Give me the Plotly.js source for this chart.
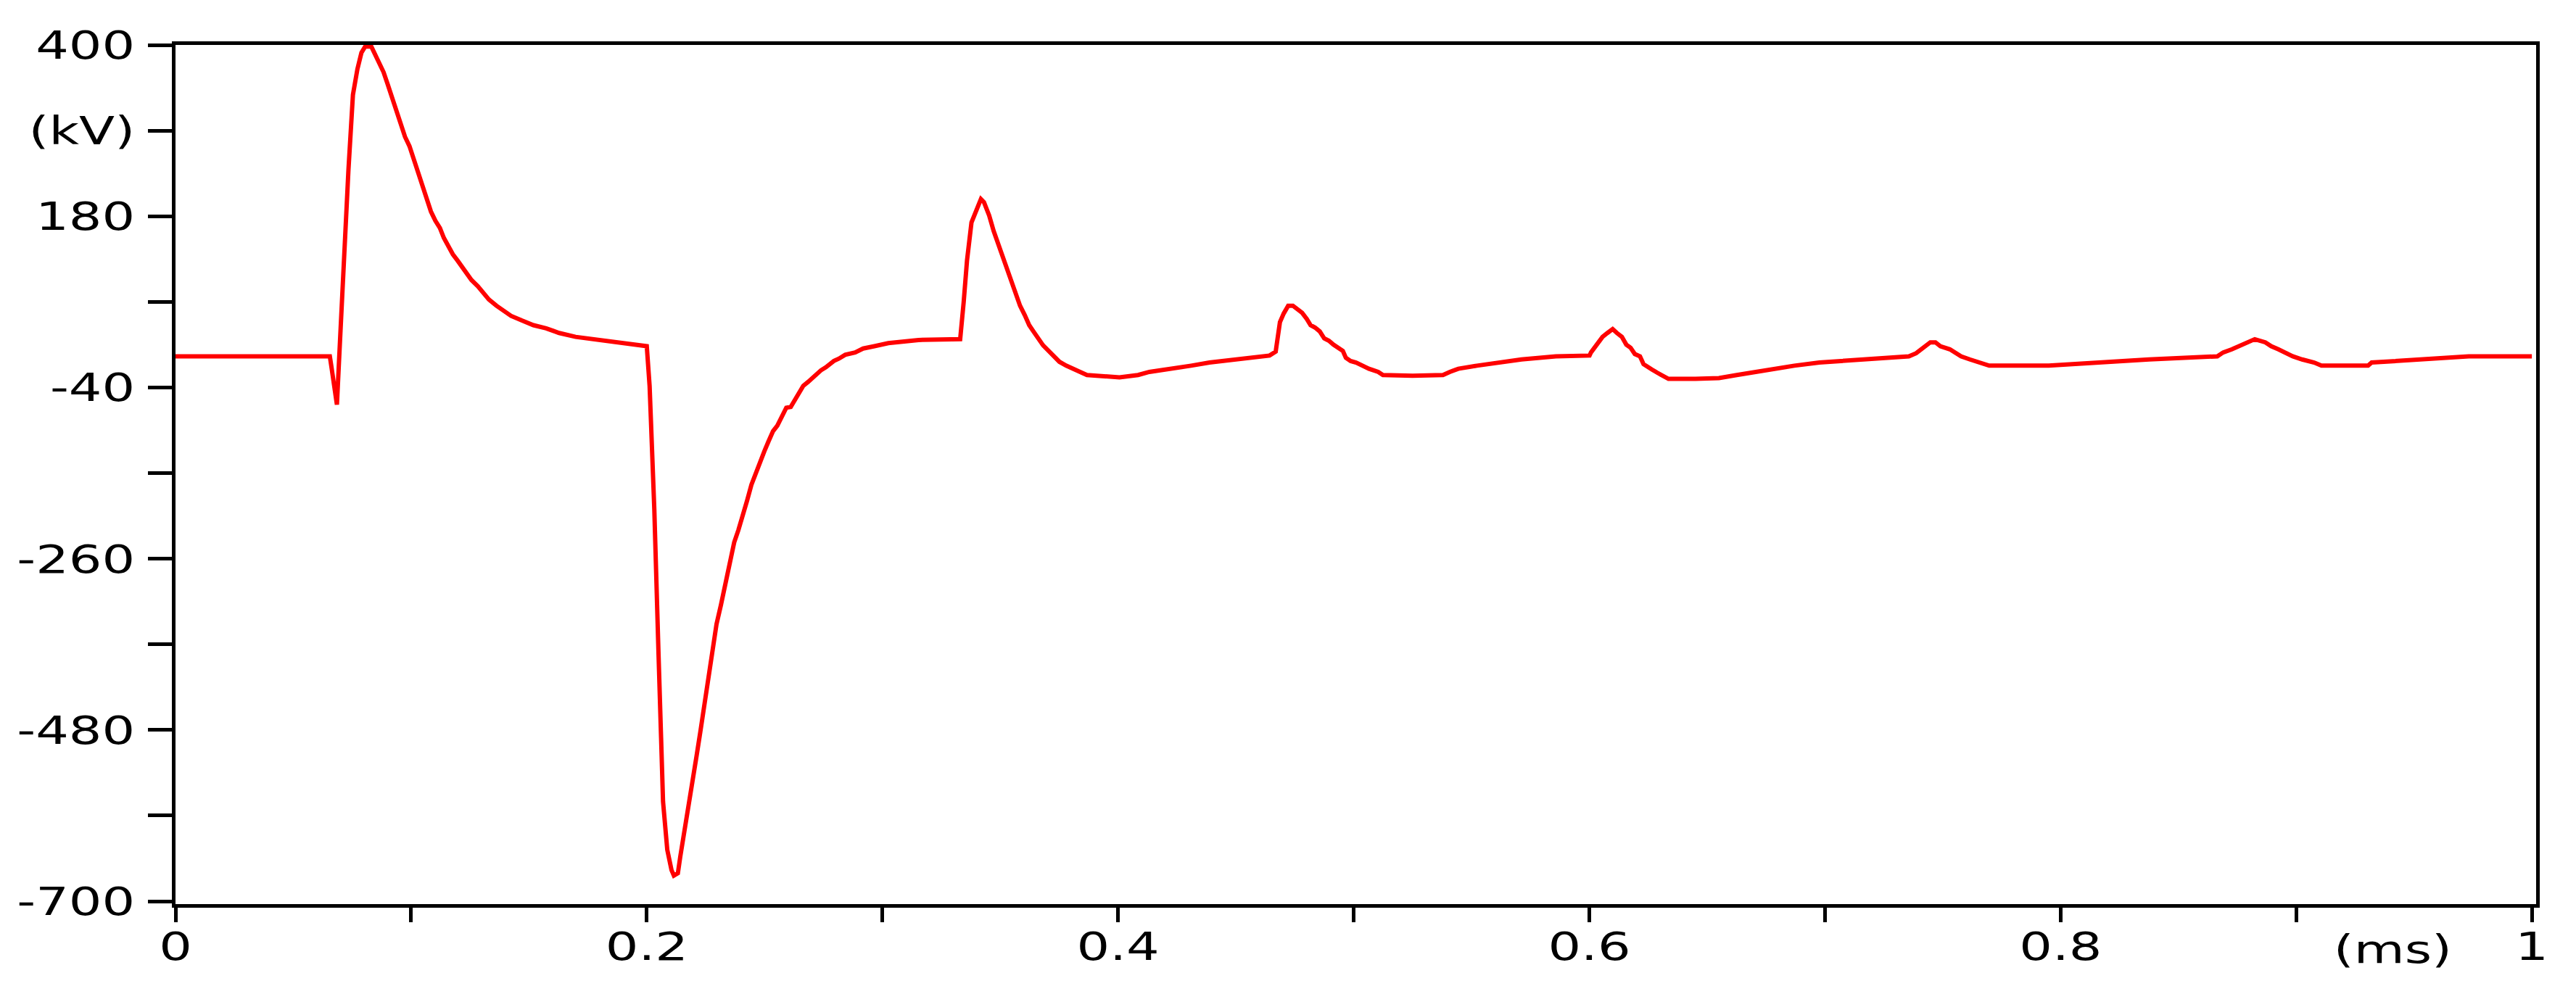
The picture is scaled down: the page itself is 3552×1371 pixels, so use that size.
<!DOCTYPE html>
<html>
<head>
<meta charset="utf-8">
<script src="https://cdn.plot.ly/plotly-3.0.1.min.js"></script>
<style>
  html, body { margin: 0; padding: 0; background: #ffffff; }
  #chart { width: 3552px; height: 1371px; }
</style>
</head>
<body>
<div id="chart"></div>
<script>
// time in ms
const timeMs = [
  0.0000, 0.0655, 0.0662, 0.0685, 0.0698, 0.0715, 0.0734, 0.0753, 0.0772, 0.0789,
  0.0805, 0.0831, 0.0843, 0.0862, 0.0883, 0.0901, 0.0920, 0.0938, 0.0957, 0.0974,
  0.0993, 0.1012, 0.1030, 0.1048, 0.1067, 0.1084, 0.1103, 0.1122, 0.1139, 0.1158,
  0.1177, 0.1197, 0.1215, 0.1236, 0.1256, 0.1283, 0.1307, 0.1330, 0.1362, 0.1393,
  0.1424, 0.1470, 0.1519, 0.1573, 0.1628, 0.1698, 0.1801, 0.1910, 0.1990, 0.2000,
  0.2012, 0.2032, 0.2050, 0.2069, 0.2087, 0.2105, 0.2115, 0.2132, 0.2142, 0.2158,
  0.2176, 0.2194, 0.2211, 0.2228, 0.2245, 0.2261, 0.2279, 0.2296, 0.2315, 0.2334,
  0.2352, 0.2371, 0.2389, 0.2407, 0.2426, 0.2444, 0.2462, 0.2481, 0.2499, 0.2517,
  0.2536, 0.2554, 0.2575, 0.2592, 0.2611, 0.2630, 0.2647, 0.2664, 0.2684, 0.2702,
  0.2722, 0.2739, 0.2760, 0.2776, 0.2794, 0.2815, 0.2842, 0.2884, 0.2918, 0.2966,
  0.3025, 0.3153, 0.3330, 0.3345, 0.3359, 0.3378, 0.3398, 0.3418, 0.3431, 0.3453,
  0.3472, 0.3492, 0.3509, 0.3529, 0.3549, 0.3567, 0.3584, 0.3604, 0.3623, 0.3643,
  0.3662, 0.3682, 0.3702, 0.3731, 0.3751, 0.3780, 0.3810, 0.3839, 0.3868, 0.4006,
  0.4085, 0.4133, 0.4232, 0.4310, 0.4388, 0.4536, 0.4643, 0.4669, 0.4687, 0.4703,
  0.4722, 0.4742, 0.4762, 0.4781, 0.4801, 0.4817, 0.4836, 0.4856, 0.4875, 0.4895,
  0.4914, 0.4934, 0.4954, 0.4967, 0.4987, 0.5010, 0.5036, 0.5065, 0.5104, 0.5124,
  0.5250, 0.5379, 0.5408, 0.5444, 0.5523, 0.5621, 0.5712, 0.5858, 0.6001, 0.6007,
  0.6026, 0.6038, 0.6056, 0.6077, 0.6099, 0.6117, 0.6138, 0.6157, 0.6175, 0.6193,
  0.6215, 0.6230, 0.6248, 0.6266, 0.6288, 0.6312, 0.6336, 0.6450, 0.6550, 0.6626,
  0.6702, 0.6778, 0.6870, 0.6976, 0.7159, 0.7356, 0.7387, 0.7408, 0.7423, 0.7447,
  0.7469, 0.7490, 0.7530, 0.7554, 0.7578, 0.7615, 0.7660, 0.7697, 0.7950, 0.8148,
  0.8376, 0.8665, 0.8690, 0.8727, 0.8757, 0.8787, 0.8824, 0.8869, 0.8894, 0.8924,
  0.8955, 0.8985, 0.9025, 0.9076, 0.9107, 0.9305, 0.9320, 0.9534, 0.9732, 1.0000
];

// voltage in kV
const voltageKv = [
  0, 0, -14, -62, 19, 127, 240, 336, 369, 390,
  398, 398, 390, 378, 365, 349, 332, 315, 298, 282,
  270, 253, 236, 219, 203, 186, 174, 165, 152, 140,
  131, 123, 115, 106, 98, 90, 81, 73, 65, 58,
  52, 46, 40, 36, 30, 25, 21, 17, 13, 13,
  -38, -197, -384, -572, -634, -660, -667, -664, -643, -614,
  -585, -547, -514, -481, -446, -414, -377, -344, -319, -293,
  -264, -239, -223, -202, -185, -165, -150, -135, -122, -109,
  -96, -89, -77, -66, -65, -55, -48, -38, -33, -28,
  -23, -18, -14, -10, -6, -3, 2, 5, 10, 13,
  17, 21, 22, 70, 123, 172, 186, 202, 198, 181,
  161, 144, 127, 111, 94, 78, 65, 53, 40, 31,
  23, 14, 8, -2, -7, -12, -16, -20, -24, -27,
  -24, -20, -16, -12, -8, -3, 1, 6, 44, 55,
  65, 65, 60, 56, 48, 40, 37, 32, 23, 20,
  15, 11, 7, -2, -6, -8, -12, -16, -20, -24,
  -25, -24, -20, -16, -12, -8, -4, 0, 1, 5,
  13, 18, 25, 30, 35, 30, 25, 15, 11, 3,
  0, -10, -14, -17, -21, -25, -29, -29, -28, -24,
  -20, -16, -12, -8, -4, 0, 4, 9, 13, 18,
  18, 13, 9, 4, 0, -4, -8, -12, -12, -8,
  -4, 0, 5, 9, 13, 18, 22, 18, 13, 9,
  4, 0, -4, -8, -12, -12, -8, -4, 0, 0
];

const yTickVals = [400, 290, 180, 70, -40, -150, -260, -370, -480, -590, -700];
const yTickText = ["400", "(kV)", "180", "", "-40", "", "-260", "", "-480", "", "-700"];
const xTickVals = [0, 0.1, 0.2, 0.3, 0.4, 0.5, 0.6, 0.7, 0.8, 0.9, 1];
const xTickText = ["0", "", "0.2", "", "0.4", "", "0.6", "", "0.8", "", "1"];
const xUnitLabel = "(ms)";

const tickFont = { family: "DejaVu Sans, Verdana, sans-serif", size: 54, color: "#000000" };

const trace = {
  x: timeMs,
  y: voltageKv,
  type: "scatter",
  mode: "lines",
  line: { color: "#ff0000", width: 6 },
  hoverinfo: "skip"
};

const layout = {
  width: 3552,
  height: 1371,
  paper_bgcolor: "#ffffff",
  plot_bgcolor: "#ffffff",
  showlegend: false,
  margin: { l: 242, r: 55, t: 62, b: 124, pad: 0 },
  xaxis: {
    range: [0, 1.0018],
    tickmode: "array",
    tickvals: xTickVals,
    ticktext: xTickText,
    ticks: "outside",
    ticklen: 20,
    tickwidth: 5,
    tickcolor: "#000000",
    showline: true,
    linecolor: "#000000",
    linewidth: 5,
    mirror: true,
    showgrid: false,
    zeroline: false,
    tickfont: tickFont,
    ticklabelstandoff: -13
  },
  yaxis: {
    range: [-703.7, 400],
    tickmode: "array",
    tickvals: yTickVals,
    ticktext: yTickText,
    ticks: "outside",
    ticklen: 33,
    tickwidth: 5,
    tickcolor: "#000000",
    showline: true,
    linecolor: "#000000",
    linewidth: 5,
    mirror: true,
    showgrid: false,
    zeroline: false,
    tickfont: tickFont,
    ticklabelstandoff: 7
  },
  annotations: [{
    text: xUnitLabel,
    x: 0.941,
    xref: "x",
    y: 0,
    yref: "paper",
    yanchor: "top",
    xanchor: "center",
    yshift: -29,
    showarrow: false,
    font: tickFont
  }]
};

// The reference lettering is horizontally wide; stretch each label about its anchor point.
function widenLabels(gd) {
  const k = 1.33;
  gd.querySelectorAll(".xtick text, .ytick text, .annotation-text").forEach(function (t) {
    const ax = parseFloat(t.getAttribute("x")) || 0;
    const tr = t.getAttribute("transform") || "";
    t.setAttribute("transform", tr + " translate(" + ax + ",0) scale(" + k + ",1) translate(" + (-ax) + ",0)");
  });
}

Plotly.newPlot("chart", [trace], layout, { staticPlot: true, displayModeBar: false })
  .then(widenLabels);
</script>
</body>
</html>
